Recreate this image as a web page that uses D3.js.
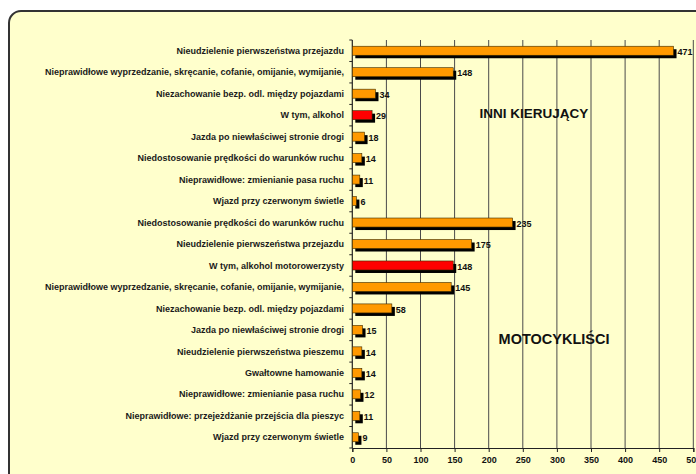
<!DOCTYPE html>
<html>
<head>
<meta charset="utf-8">
<script src="https://cdn.jsdelivr.net/npm/d3@7/dist/d3.min.js"></script>
<style>
  html, body { margin: 0; padding: 0; background: #ffffff; }
  svg { display: block; font-family: "Liberation Sans", Arial, sans-serif; }
</style>
</head>
<body>
<svg id="chart" width="696" height="474"></svg>
<script>
// Causes of road accidents: other drivers vs. motorcyclists
const categories = [
  "Nieudzielenie pierwszeństwa przejazdu",
  "Nieprawidłowe wyprzedzanie, skręcanie, cofanie, omijanie, wymijanie,",
  "Niezachowanie bezp. odl. między pojazdami",
  "W tym, alkohol ",
  "Jazda po niewłaściwej stronie drogi",
  "Niedostosowanie prędkości do warunków ruchu",
  "Nieprawidłowe: zmienianie pasa ruchu",
  "Wjazd przy czerwonym świetle",
  "Niedostosowanie prędkości do warunków ruchu",
  "Nieudzielenie pierwszeństwa przejazdu",
  "W tym, alkohol motorowerzysty",
  "Nieprawidłowe wyprzedzanie, skręcanie, cofanie, omijanie, wymijanie,",
  "Niezachowanie bezp. odl. między pojazdami",
  "Jazda po niewłaściwej stronie drogi",
  "Nieudzielenie pierwszeństwa pieszemu",
  "Gwałtowne hamowanie",
  "Nieprawidłowe: zmienianie pasa ruchu",
  "Nieprawidłowe: przejeżdżanie przejścia dla pieszyc",
  "Wjazd przy czerwonym świetle"
];
const values = [471, 148, 34, 29, 18, 14, 11, 6, 235, 175, 148, 145, 58, 15, 14, 14, 12, 11, 9];
// rows that count alcohol-related cases are highlighted
const highlighted = [3, 10];
const xTicks = [0, 50, 100, 150, 200, 250, 300, 350, 400, 450, 500];
const groupLabels = ["INNI KIERUJĄCY", "MOTOCYKLIŚCI"];

const svg = d3.select("#chart");

// chart frame
svg.append("rect")
  .attr("x", 9).attr("y", 11)
  .attr("width", 720).attr("height", 500)
  .attr("rx", 12).attr("ry", 12)
  .attr("fill", "#ffffcc")
  .attr("stroke", "#333333")
  .attr("stroke-width", 2);

const plotLeft = 352.3, plotRight = 693.3, plotTop = 40, plotBottom = 448;

const x = d3.scaleLinear().domain([0, 500]).range([plotLeft, plotRight]);
const y = d3.scaleBand().domain(d3.range(categories.length)).range([plotTop, plotBottom]).paddingInner(0.58).paddingOuter(0.29);

// vertical gridlines
svg.append("g").selectAll("line")
  .data(xTicks.slice(1))
  .join("line")
  .attr("x1", d => x(d)).attr("x2", d => x(d))
  .attr("y1", plotTop).attr("y2", plotBottom)
  .attr("stroke", "#4a4a4a")
  .attr("stroke-width", 1);

// x axis
const xAxis = svg.append("g")
  .attr("transform", `translate(0,${plotBottom})`)
  .call(d3.axisBottom(x).tickValues(xTicks).tickSize(4).tickPadding(5).tickFormat(d3.format("d")));
xAxis.select(".domain").attr("stroke", "#222").attr("stroke-width", 1.2);
xAxis.selectAll(".tick line").attr("stroke", "#222");
xAxis.selectAll("text")
  .attr("font-family", "'Liberation Sans', Arial, sans-serif")
  .attr("font-size", 9).attr("font-weight", "bold").attr("fill", "#111");

// y axis: ticks sit on category boundaries
const step = (plotBottom - plotTop) / categories.length;
const yAxisG = svg.append("g");
yAxisG.append("line")
  .attr("x1", plotLeft).attr("x2", plotLeft).attr("y1", plotTop).attr("y2", plotBottom)
  .attr("stroke", "#222").attr("stroke-width", 1.2);
yAxisG.selectAll("line.tk")
  .data(d3.range(categories.length + 1))
  .join("line").attr("class", "tk")
  .attr("x1", plotLeft - 3).attr("x2", plotLeft)
  .attr("y1", i => plotTop + i * step).attr("y2", i => plotTop + i * step)
  .attr("stroke", "#222");

// category labels
svg.append("g").selectAll("text")
  .data(categories)
  .join("text")
  .attr("x", 344)
  .attr("y", (d, i) => y(i) + y.bandwidth() / 2)
  .attr("dy", "0.35em")
  .attr("text-anchor", "end")
  .attr("font-size", 9)
  .attr("font-weight", "bold")
  .attr("fill", "#1a1a1a")
  .text(d => d);

// bar shadows
const sh = 3;
svg.append("g").selectAll("rect")
  .data(values)
  .join("rect")
  .attr("x", x(0) + sh)
  .attr("y", (d, i) => y(i) + sh)
  .attr("width", d => x(d) - x(0))
  .attr("height", y.bandwidth())
  .attr("fill", "#000000");

// bars
svg.append("g").selectAll("rect")
  .data(values)
  .join("rect")
  .attr("x", x(0))
  .attr("y", (d, i) => y(i))
  .attr("width", d => x(d) - x(0))
  .attr("height", y.bandwidth())
  .attr("fill", (d, i) => highlighted.includes(i) ? "#ff0000" : "#ff9900")
  .attr("stroke", "#3a2a00")
  .attr("stroke-width", 0.6);

// value labels
svg.append("g").selectAll("text")
  .data(values)
  .join("text")
  .attr("x", d => x(d) + 4)
  .attr("y", (d, i) => y(i) + y.bandwidth() / 2 + 1)
  .attr("dy", "0.35em")
  .attr("font-size", 9)
  .attr("font-weight", "bold")
  .attr("fill", "#111")
  .text(d => d);

// group titles
svg.append("text")
  .attr("x", 534).attr("y", 113.5).attr("dy", "0.35em")
  .attr("text-anchor", "middle")
  .attr("font-size", 13.5).attr("font-weight", "bold").attr("fill", "#111")
  .text(groupLabels[0]);
svg.append("text")
  .attr("x", 554).attr("y", 338.5).attr("dy", "0.35em")
  .attr("text-anchor", "middle")
  .attr("font-size", 14.5).attr("font-weight", "bold").attr("fill", "#111")
  .text(groupLabels[1]);
</script>
</body>
</html>
